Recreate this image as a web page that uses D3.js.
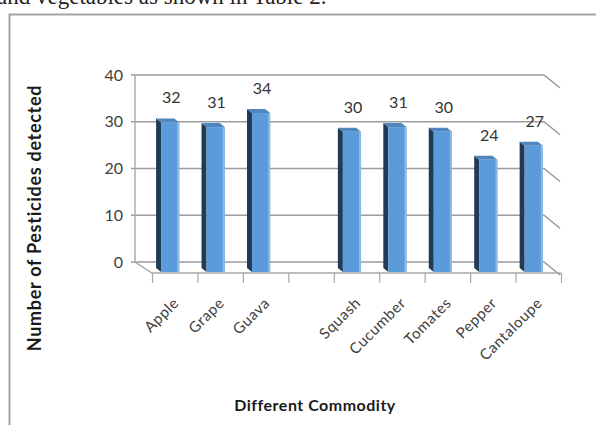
<!DOCTYPE html>
<html>
<head>
<meta charset="utf-8">
<script src="https://cdn.jsdelivr.net/npm/d3@7"></script>
<style>
  body { margin: 0; background: #fff; overflow: hidden; }
  svg { display: block; }
</style>
</head>
<body>
<svg id="chart"></svg>
<script>
const width = 596;
const height = 425;

// data
const categories = ["Apple", "Grape", "Guava", " ", "Squash", "Cucumber", "Tomates", "Pepper", "Cantaloupe"];
const values = [32, 31, 34, null, 30, 31, 30, 24, 27];
const yTicks = [0, 10, 20, 30, 40];

const svg = d3.select("#chart")
  .attr("width", width)
  .attr("height", height);

// text of the page above the figure (cut off)
svg.append("text")
  .attr("x", -3)
  .attr("y", 3.5)
  .attr("font-family", "Liberation Serif, serif")
  .attr("font-size", 23)
  .attr("fill", "#222")
  .text("and vegetables as shown in Table 2.");

// chart frame
svg.append("rect")
  .attr("x", 9.5).attr("y", 14.5)
  .attr("width", 700).attr("height", 500)
  .attr("fill", "#fff")
  .attr("stroke", "#a3a3a3")
  .attr("stroke-width", 2);

// front scales (bar fronts), back wall is shifted by depth
const depth = [-17, -10];
const x = d3.scaleBand().domain(categories).range([152, 561]);
const y = d3.scaleLinear().domain([0, 40]).range([272, 85]);
const xb = v => v + depth[0];
const yb = v => y(v) + depth[1];
const step = x.step();
const backLeft = xb(152), backRight = xb(561);

const grid = svg.append("g");
yTicks.forEach(function(t) {
  const yy = yb(t);
  grid.append("path")
    .attr("d", `M${backLeft - 4},${yy}H${backRight}l16,13`)
    .attr("fill", "none")
    .attr("stroke", "#9c9c9c")
    .attr("stroke-width", 1.6);
  grid.append("text")
    .attr("x", 123)
    .attr("y", yy + 5.5)
    .attr("text-anchor", "end")
    .attr("font-family", "Lato, sans-serif")
    .attr("font-size", 16)
    .attr("fill", "#404040")
    .text(t);
});
// left wall edge + floor
grid.append("path")
  .attr("d", `M${backLeft},${yb(40)}V${yb(0)}L152,273H561`)
  .attr("fill", "none")
  .attr("stroke", "#a8a8a8")
  .attr("stroke-width", 1.4);
// ticks under the floor
grid.selectAll(".tk")
  .data(d3.range(categories.length + 1))
  .enter()
  .append("line")
  .attr("x1", i => 152.5 + i * step)
  .attr("x2", i => 152.5 + i * step)
  .attr("y1", 273)
  .attr("y2", 283)
  .attr("stroke", "#a8a8a8")
  .attr("stroke-width", 1.2);

// 3d bars
const bd = [-5, -4];
const bars = svg.selectAll(".bar")
  .data(categories.map((c, i) => ({c: c, v: values[i]})).filter(d => d.v != null))
  .enter()
  .append("g")
  .attr("class", "bar");

function fx(d) { return x(d.c) + 0.2 * step; }
const fw = 0.4 * step;

bars.append("polygon")
  .attr("points", function(d) {
    const l = fx(d), t = y(d.v), b = y(0);
    return [[l, t], [l + bd[0], t + bd[1]], [l + bd[0], b + bd[1]], [l, b]].join(" ");
  })
  .attr("fill", "#213a55");
bars.append("polygon")
  .attr("points", function(d) {
    const l = fx(d), t = y(d.v);
    return [[l, t], [l + fw, t], [l + fw + bd[0], t + bd[1]], [l + bd[0], t + bd[1]]].join(" ");
  })
  .attr("fill", "#4f86bd");
bars.append("rect")
  .attr("x", fx)
  .attr("y", d => y(d.v))
  .attr("width", fw)
  .attr("height", d => y(0) - y(d.v))
  .attr("fill", "#5b9bd9");
bars.append("rect")
  .attr("x", d => fx(d) + fw - 2)
  .attr("y", d => y(d.v))
  .attr("width", 2)
  .attr("height", d => y(0) - y(d.v))
  .attr("fill", "#8dbbe8");

// value labels
bars.append("text")
  .attr("x", d => fx(d) + fw / 2 + 1)
  .attr("y", d => y(d.v) - 19)
  .attr("text-anchor", "middle")
  .attr("font-family", "Lato, sans-serif")
  .attr("font-size", 16)
  .attr("fill", "#333")
  .text(d => d.v);

// category labels
svg.selectAll(".cat")
  .data(categories)
  .enter()
  .append("text")
  .attr("transform", d => `translate(${x(d) + step / 2 + 5},304) rotate(-45)`)
  .attr("text-anchor", "end")
  .attr("font-family", "Lato, sans-serif")
  .attr("font-size", 15)
  .attr("letter-spacing", 0.6)
  .attr("fill", "#404040")
  .text(d => d.trim());

// axis titles
svg.append("text")
  .attr("transform", "translate(41,218) rotate(-90)")
  .attr("text-anchor", "middle")
  .attr("font-family", "Lato, sans-serif")
  .attr("font-weight", "bold")
  .attr("font-size", 18)
  .attr("letter-spacing", 0.7)
  .attr("fill", "#1a1a1a")
  .text("Number of Pesticides detected");
svg.append("text")
  .attr("x", 315)
  .attr("y", 411)
  .attr("text-anchor", "middle")
  .attr("font-family", "Lato, sans-serif")
  .attr("font-weight", "bold")
  .attr("font-size", 16)
  .attr("letter-spacing", 0.5)
  .attr("fill", "#1a1a1a")
  .text("Different Commodity");
</script>
</body>
</html>
